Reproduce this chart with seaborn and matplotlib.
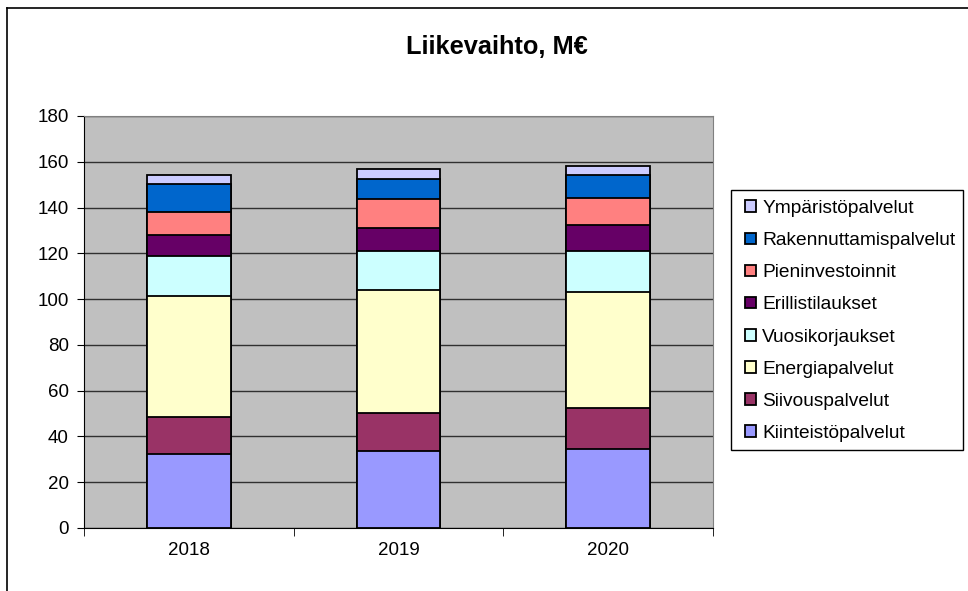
import pandas as pd
import matplotlib.pyplot as plt
import seaborn as sns
from matplotlib.lines import Line2D
from matplotlib.patches import Rectangle

# data (M€)
years = ['2018', '2019', '2020']
kiinteistopalvelut = [32.3, 33.6, 34.5]
siivouspalvelut = [16.2, 16.6, 17.8]
energiapalvelut = [53.0, 53.8, 50.7]
vuosikorjaukset = [17.2, 17.1, 18.1]
erillistilaukset = [9.2, 9.8, 11.1]
pieninvestoinnit = [10.3, 13.0, 12.1]
rakennuttamispalvelut = [11.9, 8.6, 9.8]
ymparistopalvelut = [4.1, 4.3, 4.2]

# stacking order, bottom to top
series = ['Kiinteistöpalvelut', 'Siivouspalvelut', 'Energiapalvelut', 'Vuosikorjaukset',
          'Erillistilaukset', 'Pieninvestoinnit', 'Rakennuttamispalvelut', 'Ympäristöpalvelut']
colors = ['#9999FF', '#993366', '#FFFFCC', '#CCFFFF',
          '#660066', '#FF8080', '#0066CC', '#CCCCFF']

df = pd.DataFrame({
    'Kiinteistöpalvelut': kiinteistopalvelut,
    'Siivouspalvelut': siivouspalvelut,
    'Energiapalvelut': energiapalvelut,
    'Vuosikorjaukset': vuosikorjaukset,
    'Erillistilaukset': erillistilaukset,
    'Pieninvestoinnit': pieninvestoinnit,
    'Rakennuttamispalvelut': rakennuttamispalvelut,
    'Ympäristöpalvelut': ymparistopalvelut,
}, index=years)
cum = df[series].cumsum(axis=1)

plt.rcParams['font.family'] = ['Liberation Sans', 'DejaVu Sans']

W, H = 968, 591
fig = plt.figure(figsize=(W / 100, H / 100), dpi=100)
ax = fig.add_axes([84 / W, 1 - 528 / H, (713 - 84) / W, (528 - 116) / H])
ax.set_facecolor('#C0C0C0')

# stacked bars: draw cumulative totals from the top layer down
for name, col in zip(reversed(series), reversed(colors)):
    sns.barplot(x=years, y=cum[name].values, color=col, saturation=1, width=0.4,
                edgecolor='black', linewidth=1.3, errorbar=None, label=name, ax=ax)

handles, labels = ax.get_legend_handles_labels()
if ax.get_legend() is not None:
    ax.get_legend().remove()

ax.set_xlim(-0.5, 2.5)
ax.set_ylim(0, 180)
ax.set_yticks(range(0, 181, 20))
ax.set_axisbelow(True)
ax.yaxis.grid(True, color='#303030', linewidth=1)
ax.set_xlabel('')
ax.set_ylabel('')

for s in ['top', 'right']:
    ax.spines[s].set_color('#808080')
for s in ['left', 'bottom']:
    ax.spines[s].set_color('black')

ax.tick_params(axis='y', length=5, direction='out', labelsize=13.5, pad=6)
ax.tick_params(axis='x', which='major', length=0, labelsize=13.5, pad=10)
ax.set_xticks([-0.5, 0.5, 1.5, 2.5], minor=True)
ax.tick_params(axis='x', which='minor', length=6, direction='out')

fig.text(497 / W, 1 - 47 / H, 'Liikevaihto, M€', ha='center', va='center',
         fontsize=18.3, fontweight='bold')

fig.legend(handles, labels, loc='upper left', bbox_to_anchor=(745 / W, 1 - 200 / H),
           frameon=False, fontsize=13.8, handlelength=0.55, handleheight=0.55,
           handletextpad=0.35, labelspacing=0.79, borderpad=0, borderaxespad=0)
fig.add_artist(Rectangle((731 / W, 1 - 450 / H), (963 - 731) / W, (450 - 190) / H,
                         transform=fig.transFigure, fill=False, ec='black', lw=1))

# outer chart border (left and top)
fig.add_artist(Line2D([7 / W, 7 / W], [0, 1 - 8 / H], transform=fig.transFigure,
                      color='black', lw=1.2))
fig.add_artist(Line2D([7 / W, 1], [1 - 8 / H, 1 - 8 / H], transform=fig.transFigure,
                      color='black', lw=1.2))

fig.savefig('out.png', dpi=100)
